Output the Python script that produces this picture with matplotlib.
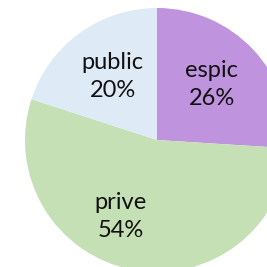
import matplotlib
matplotlib.use("Agg")
import matplotlib.pyplot as plt
import numpy as np

categories = ["espic", "prive", "public"]
values = [26, 54, 20]
colors = ["#BF93DD", "#C5E0B4", "#DEEBF7"]
# label placement (angle in degrees, distance as fraction of radius)
label_angles = [45.5, -115.6, 125.0]
label_dists = [0.59, 0.64, 0.585]

W = H = 267
fig = plt.figure(figsize=(W / 100, H / 100), dpi=100)
cx, cy, r = 157, 140, 132
ax = fig.add_axes([(cx - r) / W, (H - cy - r) / H, 2 * r / W, 2 * r / H])
ax.pie(values, colors=colors, startangle=90, counterclock=False,
       wedgeprops=dict(linewidth=0, edgecolor="none"))
ax.set_xlim(-1, 1)
ax.set_ylim(-1, 1)
ax.set_aspect("equal")
ax.axis("off")

for cat, v, a, d in zip(categories, values, label_angles, label_dists):
    x = d * np.cos(np.radians(a))
    y = d * np.sin(np.radians(a))
    ax.text(x, y, f"{cat}\n{v}%", ha="center", va="center", fontsize=17,
            family="Lato", color="#111111", linespacing=1.42)

fig.savefig("out.png", dpi=100)
